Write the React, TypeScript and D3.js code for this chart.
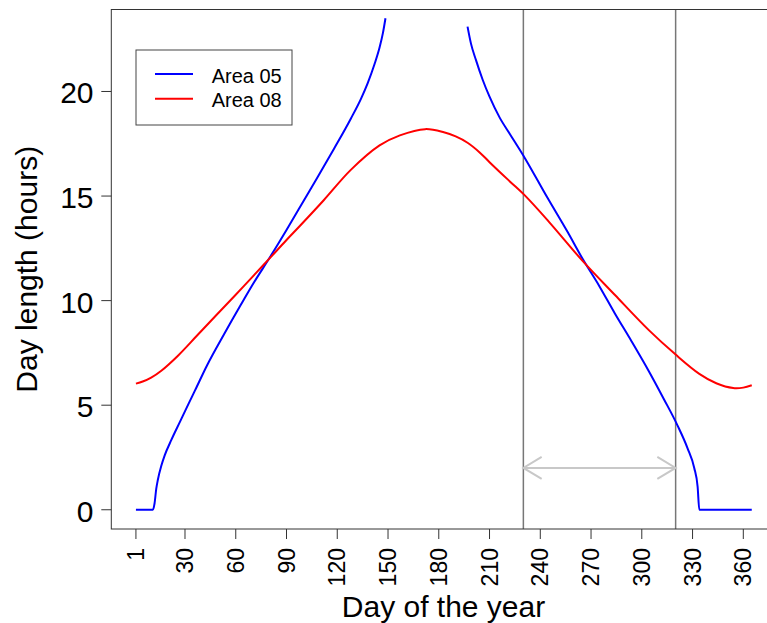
import React from "react";
import * as d3 from "d3";

const redDays = [1, 5, 10, 16, 26, 37, 49, 59, 70, 80, 90, 98, 112, 128, 145, 157, 172, 183, 190, 197, 204, 210, 222, 231, 245, 265, 284, 304, 320, 334, 344, 354, 360, 365];
const redHours = [6.03, 6.13, 6.32, 6.65, 7.38, 8.32, 9.35, 10.2, 11.15, 12.02, 12.9, 13.58, 14.8, 16.25, 17.42, 17.9, 18.2, 18.05, 17.85, 17.55, 17.1, 16.62, 15.7, 15.02, 13.78, 11.9, 10.28, 8.6, 7.42, 6.5, 6.05, 5.82, 5.84, 5.95];

const blueDays = [1, 11, 12, 13, 14, 16, 18, 22, 27, 32, 36, 43, 53, 63, 71, 80, 90, 100, 108, 118, 128, 134, 138, 142, 145, 147, 148.5, 172, 197, 199, 202, 206, 210, 216, 222, 231, 244, 256, 265, 275, 284, 294, 304, 313, 321, 327, 331, 333, 334, 365];
const blueHours: (number | null)[] = [0, 0, 0.3, 1.0, 1.45, 2.1, 2.6, 3.35, 4.2, 5.05, 5.72, 6.9, 8.38, 9.8, 10.9, 12.05, 13.38, 14.75, 15.85, 17.25, 18.7, 19.65, 20.4, 21.3, 22.1, 22.8, 23.5, null, 23.1, 22.3, 21.5, 20.55, 19.75, 18.75, 17.97, 16.8, 14.95, 13.3, 12.0, 10.68, 9.4, 8.05, 6.65, 5.3, 4.05, 2.95, 2.0, 1.1, 0, 0];

const seriesNames = ["Area 05", "Area 08"];
const seriesColors = ["#0000FF", "#FF0000"];

const xTicks = [1, 30, 60, 90, 120, 150, 180, 210, 240, 270, 300, 330, 360];
const yTicks = [0, 5, 10, 15, 20];

const markerDays = [230, 320];
const arrowHours = 2;

const xTitle = "Day of the year";
const yTitle = "Day length (hours)";

export default function App() {
  const W = 767, H = 623;
  const x = d3.scaleLinear().domain([-13.56, 379.56]).range([111.3, 776.4]);
  const y = d3.scaleLinear().domain([-0.92, 23.92]).range([529, 9.5]);

  const mk = (curve: d3.CurveFactory) =>
    d3
      .line<[number, number | null]>()
      .defined((d) => d[1] !== null)
      .x((d) => x(d[0]))
      .y((d) => y(d[1] as number))
      .curve(curve);

  const blueLine = mk(d3.curveMonotoneX);
  const redLine = mk(d3.curveCatmullRom.alpha(0.5));

  const blueData: [number, number | null][] = blueDays.map((d, i) => [d, blueHours[i]]);
  const redData: [number, number | null][] = redDays.map((d, i) => [d, redHours[i]]);

  const font = "'Liberation Sans', Arial, sans-serif";
  const left = x.range()[0];
  const right = x.range()[1];
  const top = y.range()[1];
  const bottom = y.range()[0];

  const ax1 = x(markerDays[0]);
  const ax2 = x(markerDays[1]);
  const ay = y(arrowHours);
  const ah = 18.3, aw = 11;

  return (
    <svg width={W} height={H} style={{ position: "fixed", left: 0, top: 0, background: "#fff" }} fontFamily={font}>
      <rect x={0} y={0} width={W} height={H} fill="#fff" />
      <defs>
        <clipPath id="plotclip">
          <rect x={left} y={top} width={right - left} height={bottom - top} />
        </clipPath>
      </defs>
      {markerDays.map((d) => (
        <line key={d} x1={x(d)} x2={x(d)} y1={top} y2={bottom} stroke="#777" strokeWidth={1.5} />
      ))}
      <g stroke="#c8c8c8" strokeWidth={2} fill="none">
        <line x1={ax1} x2={ax2} y1={ay} y2={ay} />
        <polyline points={`${ax1 + ah},${ay - aw} ${ax1},${ay} ${ax1 + ah},${ay + aw}`} />
        <polyline points={`${ax2 - ah},${ay - aw} ${ax2},${ay} ${ax2 - ah},${ay + aw}`} />
      </g>
      <g clipPath="url(#plotclip)" fill="none" strokeWidth={2} strokeLinejoin="round">
        <path d={blueLine(blueData) || ""} stroke={seriesColors[0]} />
        <path d={redLine(redData) || ""} stroke={seriesColors[1]} />
      </g>
      <rect x={left} y={top} width={right - left} height={bottom - top} fill="none" stroke="#333" strokeWidth={1} />
      {xTicks.map((t) => (
        <g key={t}>
          <line x1={x(t)} x2={x(t)} y1={bottom} y2={bottom + 10} stroke="#333" strokeWidth={1} />
          <text
            transform={`translate(${x(t)},${bottom + 19}) rotate(-90)`}
            textAnchor="end"
            dominantBaseline="central"
            fontSize={23}
            fill="#000"
          >
            {t}
          </text>
        </g>
      ))}
      {yTicks.map((t) => (
        <g key={t}>
          <line x1={left - 10} x2={left} y1={y(t)} y2={y(t)} stroke="#333" strokeWidth={1} />
          <text x={93.5} y={y(t) + 1.5} textAnchor="end" dominantBaseline="central" fontSize={30} fill="#000">
            {t}
          </text>
        </g>
      ))}
      <text x={443.5} y={616.7} textAnchor="middle" fontSize={30} fill="#000">
        {xTitle}
      </text>
      <text transform={`translate(36.5,${(top + bottom) / 2}) rotate(-90)`} textAnchor="middle" fontSize={30} fill="#000">
        {yTitle}
      </text>
      <rect x={136} y={50} width={156} height={75} fill="#fff" stroke="#444" strokeWidth={1} />
      {seriesNames.map((n, i) => {
        const ly = 74 + i * 24.7;
        return (
          <g key={n}>
            <line x1={155} x2={193} y1={ly} y2={ly} stroke={seriesColors[i]} strokeWidth={2} />
            <text x={211.7} y={ly + 8.5} fontSize={20} fill="#000">
              {n}
            </text>
          </g>
        );
      })}
    </svg>
  );
}
